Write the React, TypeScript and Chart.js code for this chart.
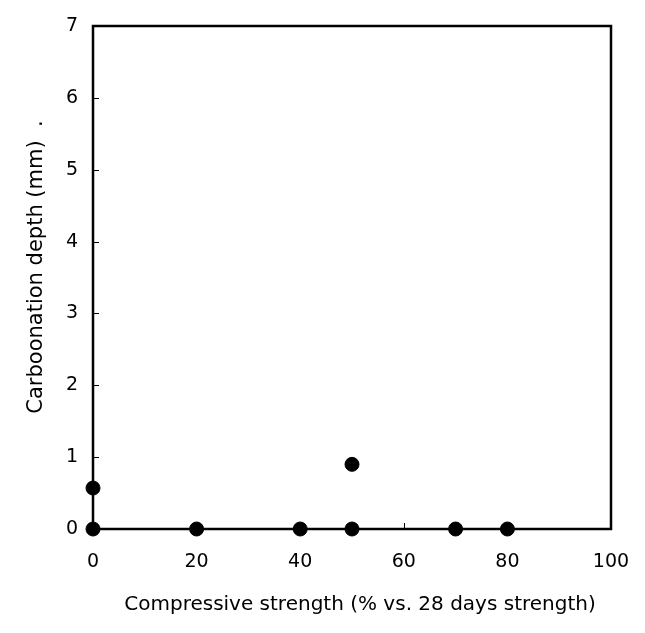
import React, { useEffect, useRef } from "react";
import { Chart, registerables } from "chart.js";

Chart.register(...registerables);

const strengthPct = [0, 0, 20, 40, 50, 50, 70, 80];
const carbonationDepth = [0, 0.57, 0, 0, 0, 0.9, 0, 0];
const xTicks = [0, 20, 40, 60, 80, 100];
const yTicks = [0, 1, 2, 3, 4, 5, 6, 7];
const xTitle = "Compressive strength (% vs. 28 days strength)";
const yTitle = "Carboonation depth (mm)  .";

const FONT = "'DejaVu Sans', Verdana, sans-serif";

const framePlugin = {
  id: "frame",
  afterDatasetsDraw(chart: any) {
    const { ctx, chartArea: a, scales } = chart;
    const x = scales.x;
    const y = scales.y;
    ctx.save();
    ctx.strokeStyle = "#000";
    ctx.lineWidth = 1;
    ctx.beginPath();
    for (const v of xTicks) {
      const px = Math.round(x.getPixelForValue(v)) + 0.5;
      ctx.moveTo(px, a.bottom);
      ctx.lineTo(px, a.bottom - 6);
    }
    for (const v of yTicks) {
      const py = Math.round(y.getPixelForValue(v)) + 0.5;
      ctx.moveTo(a.left, py);
      ctx.lineTo(a.left + 6, py);
    }
    ctx.stroke();
    ctx.lineWidth = 2.5;
    ctx.strokeRect(a.left, a.top, a.right - a.left, a.bottom - a.top);
    ctx.restore();
  },
  afterDraw(chart: any) {
    const { ctx } = chart;
    ctx.save();
    ctx.fillStyle = "#000";
    ctx.textAlign = "center";
    ctx.textBaseline = "middle";
    ctx.font = `20px ${FONT}`;
    ctx.fillText(xTitle, 360, 605);
    ctx.font = `21px ${FONT}`;
    ctx.translate(37, 267);
    ctx.rotate(-Math.PI / 2);
    ctx.fillText(yTitle, 0, 0);
    ctx.restore();
  },
};

export default function App() {
  const ref = useRef<HTMLCanvasElement>(null);
  useEffect(() => {
    document.body.style.margin = "0";
    const chart = new Chart(ref.current!, {
      type: "scatter",
      data: {
        datasets: [
          {
            data: strengthPct.map((v, i) => ({ x: v, y: carbonationDepth[i] })),
            backgroundColor: "#000",
            borderColor: "#000",
            pointRadius: 7,
            pointHoverRadius: 7,
            clip: false,
          },
        ],
      },
      options: {
        animation: false,
        responsive: false,
        maintainAspectRatio: false,
        layout: { padding: { top: 26, right: 34, left: 0, bottom: 0 } },
        plugins: { legend: { display: false }, tooltip: { enabled: false } },
        scales: {
          x: {
            type: "linear",
            min: 0,
            max: 100,
            afterBuildTicks: (s: any) => {
              s.ticks = xTicks.map((v) => ({ value: v }));
            },
            afterFit: (s: any) => {
              s.height = 104;
              s.paddingLeft = 0;
              s.paddingRight = 0;
            },
            grid: { display: false, drawTicks: false },
            border: { display: false },
            ticks: { color: "#000", font: { family: FONT, size: 19 }, padding: 22, maxRotation: 0 },
          },
          y: {
            type: "linear",
            min: 0,
            max: 7,
            afterBuildTicks: (s: any) => {
              s.ticks = yTicks.map((v) => ({ value: v }));
            },
            afterFit: (s: any) => {
              s.width = 93;
              s.paddingTop = 0;
              s.paddingBottom = 0;
            },
            grid: { display: false, drawTicks: false },
            border: { display: false },
            ticks: { color: "#000", font: { family: FONT, size: 19 }, padding: 15 },
          },
        },
      },
      plugins: [framePlugin],
    });
    return () => chart.destroy();
  }, []);
  return (
    <div style={{ width: 645, height: 633, background: "#fff" }}>
      <canvas ref={ref} width={645} height={633} />
    </div>
  );
}
